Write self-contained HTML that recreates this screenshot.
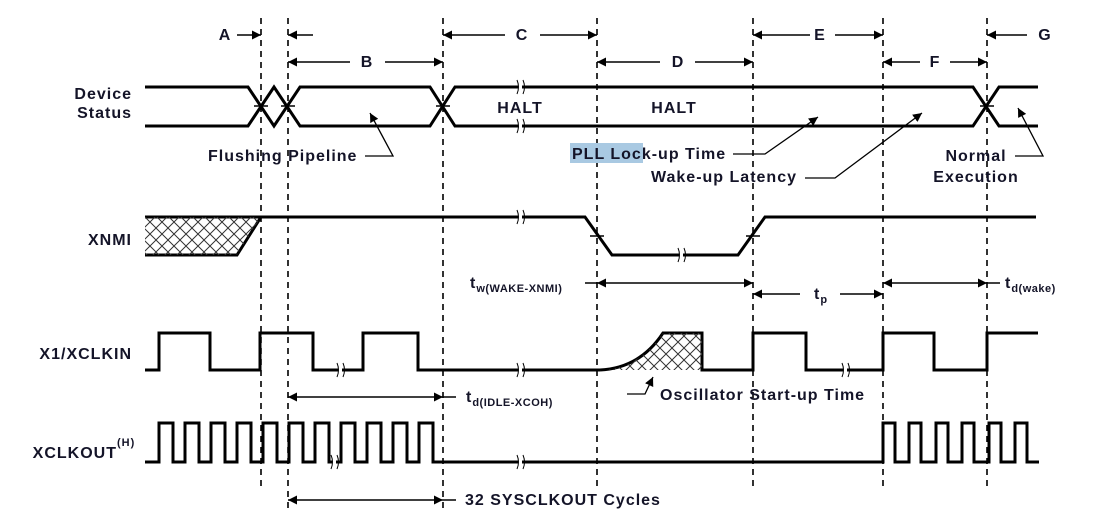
<!DOCTYPE html>
<html><head><meta charset="utf-8"><style>
html,body{margin:0;padding:0;background:#fff;}
svg text{font-family:"Liberation Sans",Arial,sans-serif;font-weight:bold;fill:#141428;letter-spacing:1px;}
</style></head><body>
<svg width="1099" height="521" viewBox="0 0 1099 521" xmlns="http://www.w3.org/2000/svg">
<defs>
<marker id="ah" viewBox="0 0 10 10" refX="10" refY="5" markerWidth="9" markerHeight="9" orient="auto-start-reverse" markerUnits="userSpaceOnUse"><path d="M0,0 L10,5 L0,10 z" fill="#000"/></marker>
<pattern id="hatch" width="12" height="12" patternUnits="userSpaceOnUse"><path d="M0,0 L12,12 M12,0 L0,12" stroke="#333" stroke-width="1"/></pattern>
</defs>
<g stroke="#000" stroke-width="1.6" stroke-dasharray="6,5" fill="none">
<line x1="261" y1="18" x2="261" y2="490"/>
<line x1="288" y1="18" x2="288" y2="510"/>
<line x1="443" y1="18" x2="443" y2="510"/>
<line x1="597" y1="18" x2="597" y2="490"/>
<line x1="753" y1="18" x2="753" y2="490"/>
<line x1="883" y1="18" x2="883" y2="490"/>
<line x1="987" y1="18" x2="987" y2="490"/>
</g>
<g stroke="#000" stroke-width="3" fill="none" stroke-linejoin="miter">
<polyline points="145,87 248,87 274,126 300,87 430,87 455,126 973,126 999,87 1038,87"/>
<polyline points="145,126 248,126 274,87 300,126 430,126 455,87 973,87 999,126 1038,126"/>
<polyline points="145,217 585,217 612,255 738,255 765,217 1036,217"/>
<polyline points="145,255 237,255 261,217"/>
<polyline points="145,370 159,370 159,333 210,333 210,370 260,370 260,333 313,333 313,370 363,370 363,333 418,333 418,370 600,370"/>
<path d="M600,370 Q640,368 663,333 L702,333 L702,370 L753,370 L753,333 L806,333 L806,370 L883,370 L883,333 L934,333 L934,370 L987,370 L987,333 L1038,333"/>
</g>
<polygon points="145,217 261,217 237,255 145,255" fill="url(#hatch)"/>
<path d="M606,370 Q640,366 663,333 L702,333 L702,370 Z" fill="url(#hatch)"/>
<polyline fill="none" stroke="#000" stroke-width="3" points="145,462 159,462 159,423 173,423 173,462 185,462 185,423 199,423 199,462 211,462 211,423 225,423 225,462 237,462 237,423 251,423 251,462 263,462 263,423 277,423 277,462 289,462 289,423 303,423 303,462 315,462 315,423 329,423 329,462 341,462 341,423 355,423 355,462 367,462 367,423 381,423 381,462 393,462 393,423 407,423 407,462 419,462 419,423 433,423 433,462 883,462 883,423 895,423 895,462 909,462 909,423 921,423 921,462 936,462 936,423 948,423 948,462 962,462 962,423 974,423 974,462 989,462 989,423 1001,423 1001,462 1015,462 1015,423 1027,423 1027,462 1039,462"/>
<g stroke="#fff" stroke-width="4">
<line x1="520" y1="80" x2="520" y2="94"/><line x1="520" y1="119" x2="520" y2="133"/>
<line x1="520" y1="210" x2="520" y2="224"/><line x1="681" y1="248" x2="681" y2="262"/>
<line x1="340" y1="363" x2="340" y2="377"/><line x1="520" y1="363" x2="520" y2="377"/>
<line x1="845" y1="363" x2="845" y2="377"/><line x1="334" y1="455" x2="334" y2="469"/><line x1="520" y1="455" x2="520" y2="469"/>
</g>
<g stroke="#000" stroke-width="1" fill="none">
<path d="M517,80 q3,7 0,14 M523,80 q3,7 0,14"/><path d="M517,119 q3,7 0,14 M523,119 q3,7 0,14"/>
<path d="M517,210 q3,7 0,14 M523,210 q3,7 0,14"/><path d="M678,248 q3,7 0,14 M684,248 q3,7 0,14"/>
<path d="M337,363 q3,7 0,14 M343,363 q3,7 0,14"/><path d="M517,363 q3,7 0,14 M523,363 q3,7 0,14"/>
<path d="M842,363 q3,7 0,14 M848,363 q3,7 0,14"/><path d="M331,455 q3,7 0,14 M337,455 q3,7 0,14"/><path d="M517,455 q3,7 0,14 M523,455 q3,7 0,14"/>
</g>
<g stroke="#000" stroke-width="1.5">
<line x1="254" y1="106" x2="268" y2="106"/><line x1="281" y1="106" x2="295" y2="106"/><line x1="436" y1="106" x2="450" y2="106"/><line x1="980" y1="106" x2="994" y2="106"/>
<line x1="590" y1="236" x2="604" y2="236"/><line x1="746" y1="236" x2="760" y2="236"/>
</g>
<g stroke="#000" stroke-width="1.5" fill="none" marker-end="url(#ah)">
<line x1="237" y1="35" x2="261" y2="35"/><line x1="313" y1="35" x2="288" y2="35"/>
<line x1="505" y1="35" x2="443" y2="35"/><line x1="540" y1="35" x2="597" y2="35"/>
<line x1="810" y1="35" x2="753" y2="35"/><line x1="835" y1="35" x2="883" y2="35"/>
<line x1="1027" y1="35" x2="987" y2="35"/>
<line x1="350" y1="62" x2="288" y2="62"/><line x1="385" y1="62" x2="443" y2="62"/>
<line x1="660" y1="62" x2="597" y2="62"/><line x1="695" y1="62" x2="753" y2="62"/>
<line x1="920" y1="62" x2="883" y2="62"/><line x1="950" y1="62" x2="987" y2="62"/>
<line x1="800" y1="294" x2="753" y2="294"/><line x1="840" y1="294" x2="883" y2="294"/>
</g>
<g stroke="#000" stroke-width="1.5" fill="none" marker-start="url(#ah)" marker-end="url(#ah)">
<line x1="597" y1="283" x2="753" y2="283"/>
<line x1="883" y1="283" x2="987" y2="283"/>
<line x1="288" y1="397" x2="443" y2="397"/>
<line x1="288" y1="500" x2="443" y2="500"/>
</g>
<g stroke="#000" stroke-width="1.5">
<line x1="585" y1="283" x2="597" y2="283"/><line x1="987" y1="283" x2="1000" y2="283"/>
<line x1="443" y1="397" x2="456" y2="397"/><line x1="443" y1="500" x2="456" y2="500"/>
</g>
<g stroke="#000" stroke-width="1.3" fill="none" marker-end="url(#ah)">
<polyline points="365,156 393,156 370,113"/>
<polyline points="733,154 765,154 818,117"/>
<polyline points="805,178 835,178 922,113"/>
<polyline points="1015,156 1043,156 1018,108"/>
<polyline points="627,394 645,394 653,377"/>
</g>
<rect x="570" y="143" width="73" height="20" fill="#a9c9e2"/>
<g font-size="16">
<text x="225" y="40" text-anchor="middle">A</text>
<text x="367" y="67" text-anchor="middle">B</text>
<text x="522" y="40" text-anchor="middle">C</text>
<text x="678" y="67" text-anchor="middle">D</text>
<text x="820" y="40" text-anchor="middle">E</text>
<text x="935" y="67" text-anchor="middle">F</text>
<text x="1045" y="40" text-anchor="middle">G</text>
<text x="132" y="99" text-anchor="end">Device</text>
<text x="132" y="118" text-anchor="end">Status</text>
<text x="132" y="245" text-anchor="end">XNMI</text>
<text x="132" y="359" text-anchor="end">X1/XCLKIN</text>
<text x="117" y="458" text-anchor="end">XCLKOUT</text>
<text x="117" y="446" font-size="11" letter-spacing="0">(H)</text>
<text x="520" y="113" text-anchor="middle">HALT</text>
<text x="674" y="113" text-anchor="middle">HALT</text>
<text x="208" y="161">Flushing Pipeline</text>
<text x="572" y="159">PLL Lock-up Time</text>
<text x="651" y="182">Wake-up Latency</text>
<text x="976" y="161" text-anchor="middle">Normal</text>
<text x="976" y="182" text-anchor="middle">Execution</text>
<text x="660" y="400">Oscillator Start-up Time</text>
<text x="465" y="505">32 SYSCLKOUT Cycles</text>
<text x="470" y="288">t<tspan font-size="11" letter-spacing="0.5" dy="4">w(WAKE-XNMI)</tspan></text>
<text x="466" y="402">t<tspan font-size="11" letter-spacing="0.5" dy="4">d(IDLE-XCOH)</tspan></text>
<text x="814" y="299">t<tspan font-size="11" dy="4">p</tspan></text>
<text x="1005" y="288">t<tspan font-size="11" letter-spacing="0.5" dy="4">d(wake)</tspan></text>
</g>
</svg>
</body></html>
